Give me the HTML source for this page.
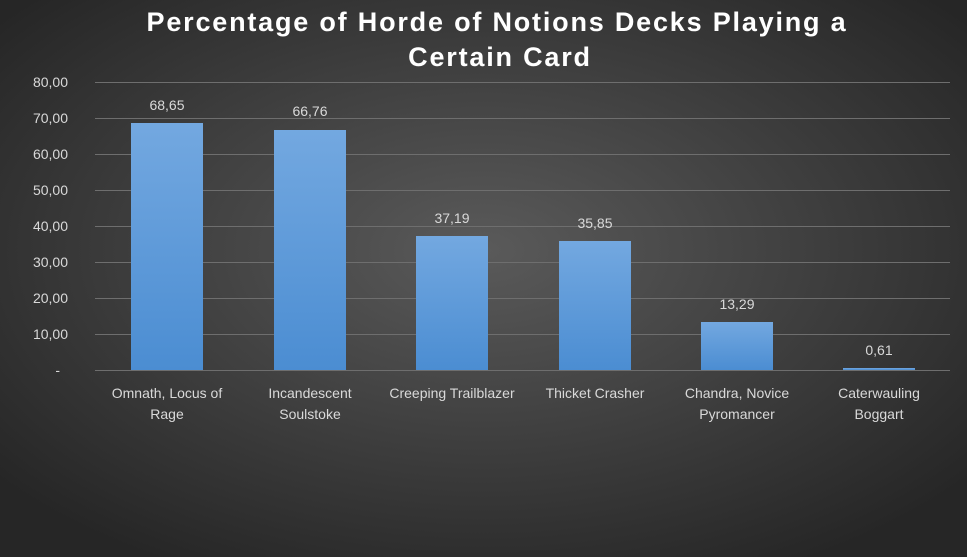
<!DOCTYPE html><html><head><style>body{margin:0}svg{display:block}</style></head><body>
<svg width="967" height="557" xmlns="http://www.w3.org/2000/svg" font-family="Liberation Sans, sans-serif">
<defs>
<radialGradient id="bg" cx="50%" cy="45%" r="65%"><stop offset="0" stop-color="#5a5a5a"/><stop offset="1" stop-color="#262626"/></radialGradient>
<linearGradient id="bar" x1="0" y1="0" x2="0" y2="1"><stop offset="0" stop-color="#73a8e0"/><stop offset="1" stop-color="#4b8dd2"/></linearGradient>
</defs>
<rect width="967" height="557" fill="url(#bg)"/>
<g fill="#fff" font-weight="bold" font-size="27" text-anchor="middle" letter-spacing="1.8">
<text x="497" y="31">Percentage of Horde of Notions Decks Playing a</text>
<text x="500" y="66">Certain Card</text></g>
<g stroke="#6e6e6e" stroke-width="1">
<line x1="95" x2="950" y1="82.5" y2="82.5"/><line x1="95" x2="950" y1="118.5" y2="118.5"/><line x1="95" x2="950" y1="154.5" y2="154.5"/><line x1="95" x2="950" y1="190.5" y2="190.5"/><line x1="95" x2="950" y1="226.5" y2="226.5"/><line x1="95" x2="950" y1="262.5" y2="262.5"/><line x1="95" x2="950" y1="298.5" y2="298.5"/><line x1="95" x2="950" y1="334.5" y2="334.5"/><line x1="95" x2="950" y1="370.5" y2="370.5"/></g>
<g fill="#d9d9d9" font-size="14" text-anchor="end">
<text x="68" y="87">80,00</text><text x="68" y="123">70,00</text><text x="68" y="159">60,00</text><text x="68" y="195">50,00</text><text x="68" y="231">40,00</text><text x="68" y="267">30,00</text><text x="68" y="303">20,00</text><text x="68" y="339">10,00</text><text x="60" y="375">-</text></g>
<g fill="url(#bar)">
<rect x="131" y="123" width="72" height="247"/><rect x="274" y="130" width="72" height="240"/><rect x="416" y="236" width="72" height="134"/><rect x="559" y="241" width="72" height="129"/><rect x="701" y="322" width="72" height="48"/><rect x="843" y="368" width="72" height="2"/></g>
<g fill="#d9d9d9" font-size="14" text-anchor="middle">
<text x="167" y="110">68,65</text><text x="310" y="116">66,76</text><text x="452" y="223">37,19</text><text x="595" y="228">35,85</text><text x="737" y="309">13,29</text><text x="879" y="355">0,61</text>
<text x="167" y="398">Omnath, Locus of</text><text x="167" y="419">Rage</text>
<text x="310" y="398">Incandescent</text><text x="310" y="419">Soulstoke</text>
<text x="452" y="398">Creeping Trailblazer</text>
<text x="595" y="398">Thicket Crasher</text>
<text x="737" y="398">Chandra, Novice</text><text x="737" y="419">Pyromancer</text>
<text x="879" y="398">Caterwauling</text><text x="879" y="419">Boggart</text></g>
</svg></body></html>
